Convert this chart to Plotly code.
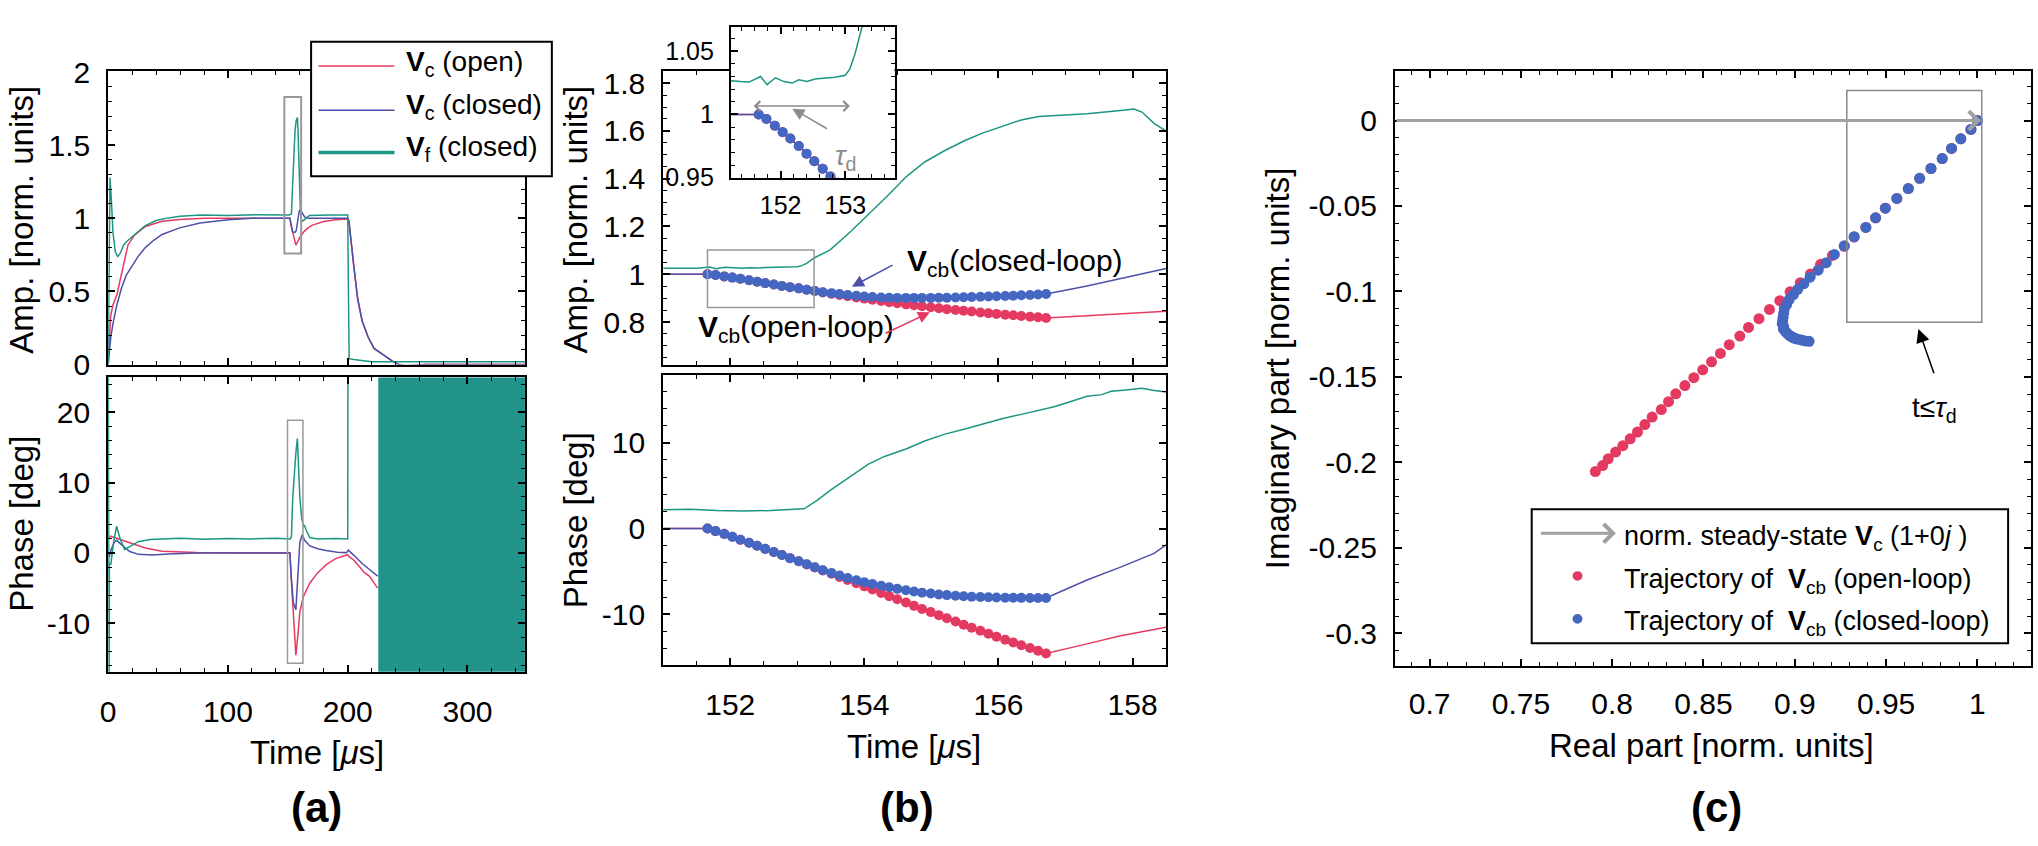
import numpy as np
import plotly.graph_objects as go

W, H = 2038, 846
def px(x): return x / W
def py(y): return 1 - y / H

FONT = "Liberation Sans, Arial, Helvetica, sans-serif"
RED = "#e43a62"
BLUE_L = "#4d4fa8"
BLUE_M = "#4467c2"
TEAL = "#1c9682"
TEAL_FILL = "#22938b"
GRAY = "#9a9a9a"

# ---------------- Panel (a): amplitude ----------------
a_open_amp_t = [0, 0.5, 1, 2, 4, 7.4, 10, 13, 16.6, 22, 31, 45, 60, 80, 150, 151.7, 153, 155, 156.7,
                158.5, 160, 163, 166, 170, 175, 180, 190, 200, 201, 202.6, 205, 208.3, 212, 216.9,
                222, 231, 237, 242.7, 248, 255, 265, 348]
a_open_amp = [0, 0.12, 0.22, 0.33, 0.41, 0.48, 0.58, 0.70, 0.82, 0.885, 0.945, 0.98, 0.993, 1.0, 1.0,
              1.0, 0.94, 0.86, 0.817, 0.845, 0.87, 0.905, 0.93, 0.952, 0.967, 0.978, 0.99, 0.995,
              0.98, 0.85, 0.68, 0.45, 0.30, 0.19, 0.11, 0.06, 0.025, 0.0, -0.006, -0.004, 0, 0]

a_closed_amp_t = [0, 0.5, 1, 2.2, 4, 7, 11, 15, 19.6, 25, 31, 38, 45, 59.5, 76.7, 100, 120, 150,
                  151.7, 154, 156, 157, 158.5, 159.5, 160.5, 162, 164, 167, 200, 201, 202.6, 205,
                  208.3, 212, 216.9, 222, 231, 237, 242.7, 248, 255, 265, 348]
a_closed_amp = [0, 0.05, 0.10, 0.19, 0.28, 0.40, 0.52, 0.61, 0.67, 0.74, 0.80, 0.85, 0.89, 0.935,
                0.968, 0.99, 1.0, 1.0, 1.0, 0.907, 0.904, 0.917, 1.02, 1.05, 1.058, 1.04, 1.01, 1.0,
                1.0, 0.98, 0.85, 0.68, 0.45, 0.30, 0.19, 0.11, 0.06, 0.025, 0.0, -0.008, -0.005, 0, 0]

a_vf_amp_t = [0, 0.5, 1, 1.5, 2.5, 4, 6, 8, 10, 13, 16.6, 22, 31, 40, 48, 60, 77, 100, 125, 151,
              153, 154, 155, 156, 157, 158, 158.5, 159.5, 160.5, 161.5, 163, 165, 168, 185, 200,
              200.6, 201.2, 205, 210, 220, 348]
a_vf_amp = [0, 0.6, 1.1, 1.28, 1.15, 0.90, 0.77, 0.74, 0.76, 0.82, 0.85, 0.89, 0.95, 0.985, 1.0,
            1.015, 1.023, 1.02, 1.025, 1.023, 1.03, 1.23, 1.46, 1.60, 1.67, 1.69, 1.60, 1.30, 1.05,
            0.98, 0.985, 1.0, 1.02, 1.023, 1.023, 0.5, 0.04, 0.035, 0.03, 0.02, 0.02]

# ---------------- Panel (a): phase ----------------
a_open_ph_t = [0.5, 2, 5, 10, 16.6, 25, 31, 45, 60, 74, 150, 151.7, 153, 154.5, 156.7, 158.5, 160,
               163, 168.3, 175, 182.6, 190, 199.9, 201, 205, 210, 214, 218, 222, 225]
a_open_ph = [2.0, 2.4, 2.2, 1.9, 1.6, 1.0, 0.7, 0.25, 0.1, 0.05, 0.0, 0.0, -4.0, -8.3, -14.56,
             -11.5, -8.4, -6.2, -4.3, -2.8, -1.6, -0.8, -0.25, -0.5, -1.0, -2.0, -2.8, -3.3, -4.2, -5.0]

a_closed_ph_t = [0.3, 1, 2.5, 5, 7, 10, 13.7, 18, 25.2, 36.7, 50, 74, 150, 151.7, 153, 154.5, 156.7,
                 157.8, 158.5, 160, 162, 164, 168.3, 175, 182, 191.3, 199, 200.5, 205, 212, 220, 225]
a_closed_ph = [-0.4, -0.5, 0.5, 1.5, 1.8, 1.4, 0.8, 0.2, -0.2, -0.3, -0.15, 0.0, 0.0, 0.0, -3.8,
               -7.0, -8.1, -4.5, -1.9, 1.5, 2.6, 1.8, 1.0, 0.6, 0.35, 0.1, 0.05, 0.4, -0.3, -1.5,
               -2.6, -3.3]

a_vf_ph_t = [0, 0.25, 0.5, 0.75, 1.0, 2.2, 4.5, 7, 10, 13.7, 18, 25, 35, 45, 60, 80, 100, 120, 140,
             152, 153, 154, 155, 156, 157, 158, 159, 160, 161.5, 163, 164, 165.4, 168.3, 175, 190,
             200, 200.3, 225]
a_vf_ph = [30, -20, 30, -20, -1.5, -1.6, 1.5, 3.8, 2.0, 0.5, 0.9, 1.6, 1.9, 2.0, 2.1, 1.95, 2.05,
           2.0, 2.1, 2.0, 2.3, 7.5, 10.6, 12.6, 14.8, 16.3, 12.0, 8.0, 5.0, 3.8, 3.9, 3.2, 2.2, 2.0,
           2.05, 2.0, 40, 40]

# random phase of V_f once the field is off
a_vf_noise_t = [225.5, 348]
a_vf_noise_ph = [-17, 25]

# ---------------- Panel (b) ----------------
b_vf_amp_t = [151.0, 151.24, 151.38, 151.51, 151.69, 151.79, 151.92, 152.05, 152.18, 152.28, 152.41,
              152.53, 152.66, 152.84, 153.0, 153.07, 153.15, 153.25, 153.49, 153.8, 154.06, 154.35,
              154.63, 154.9, 155.2, 155.5, 155.77, 156.05, 156.34, 156.6, 156.91, 157.32, 157.82,
              158.02, 158.14, 158.32, 158.5]
b_vf_amp = [1.025, 1.0266, 1.026, 1.0256, 1.030, 1.0236, 1.029, 1.026, 1.0248, 1.0274, 1.026, 1.028,
            1.0286, 1.0294, 1.031, 1.036, 1.048, 1.068, 1.102, 1.18, 1.25, 1.33, 1.41, 1.47, 1.518,
            1.56, 1.592, 1.62, 1.646, 1.66, 1.665, 1.672, 1.686, 1.692, 1.679, 1.632, 1.599]

b_vf_ph_t = [151.0, 151.4, 151.8, 152.2, 152.6, 152.9, 153.1, 153.3, 153.5, 153.8, 154.06, 154.3,
             154.63, 154.9, 155.2, 155.5, 155.77, 156.05, 156.34, 156.6, 156.83, 157.08, 157.32,
             157.54, 157.68, 157.9, 158.14, 158.3, 158.5]
b_vf_ph = [2.2, 2.25, 2.1, 2.05, 2.1, 2.25, 2.3, 3.3, 4.5, 6.1, 7.5, 8.4, 9.3, 10.2, 11.0, 11.6, 12.2,
           12.8, 13.3, 13.8, 14.2, 14.8, 15.4, 15.6, 16.0, 16.15, 16.35, 16.1, 15.9]

b_pre_t = [151.0]
b_pre_amp = [1.0]
b_pre_ph = [0.0]
b_post_t = [157.32, 157.82, 158.32, 158.5]
b_post_open_amp = [0.826, 0.834, 0.842, 0.845]
b_post_closed_amp = [0.951, 0.982, 1.013, 1.024]
b_post_open_ph = [-13.44, -12.5, -11.76, -11.5]
b_post_closed_ph = [-6.0, -4.5, -2.9, -1.9]

# sampled V_cb points (markers)
mk_t = [151.66, 151.78, 151.91, 152.03, 152.15, 152.28, 152.40, 152.52, 152.65, 152.77, 152.89,
        153.02, 153.14, 153.26, 153.38, 153.51, 153.63, 153.75, 153.88, 154.00, 154.12, 154.25,
        154.37, 154.49, 154.62, 154.74, 154.86, 154.99, 155.11, 155.23, 155.36, 155.48, 155.60,
        155.73, 155.85, 155.97, 156.10, 156.22, 156.34, 156.47, 156.59, 156.71]
mk_open_amp = [1.000, 0.9965, 0.991, 0.986, 0.981, 0.975, 0.969, 0.963, 0.957, 0.951, 0.946, 0.941,
               0.935, 0.930, 0.924, 0.918, 0.913, 0.908, 0.903, 0.898, 0.893, 0.888, 0.883, 0.879,
               0.874, 0.870, 0.866, 0.862, 0.858, 0.854, 0.850, 0.847, 0.844, 0.840, 0.837, 0.834,
               0.831, 0.828, 0.825, 0.822, 0.820, 0.817]
mk_closed_amp = [1.000, 0.9965, 0.991, 0.986, 0.981, 0.975, 0.969, 0.963, 0.957, 0.951, 0.946, 0.941,
                 0.935, 0.930, 0.925, 0.921, 0.917, 0.913, 0.910, 0.907, 0.905, 0.903, 0.902, 0.901,
                 0.901, 0.901, 0.901, 0.901, 0.902, 0.902, 0.903, 0.904, 0.905, 0.906, 0.907, 0.908,
                 0.909, 0.910, 0.912, 0.913, 0.915, 0.917]
mk_open_ph = [0.00, -0.30, -0.62, -0.95, -1.30, -1.65, -2.00, -2.37, -2.73, -3.09, -3.45, -3.81,
              -4.18, -4.54, -4.90, -5.26, -5.64, -6.00, -6.37, -6.74, -7.11, -7.50, -7.88, -8.25,
              -8.63, -9.01, -9.38, -9.74, -10.10, -10.46, -10.84, -11.20, -11.56, -11.92, -12.27,
              -12.62, -12.95, -13.28, -13.60, -13.93, -14.25, -14.56]
mk_closed_ph = [0.00, -0.30, -0.62, -0.95, -1.30, -1.65, -2.00, -2.37, -2.73, -3.09, -3.45, -3.81,
                -4.17, -4.52, -4.86, -5.18, -5.48, -5.76, -6.02, -6.25, -6.46, -6.66, -6.85, -7.03,
                -7.19, -7.34, -7.47, -7.58, -7.68, -7.76, -7.83, -7.89, -7.94, -7.98, -8.01, -8.04,
                -8.06, -8.07, -8.08, -8.09, -8.10, -8.10]

# ---------------- Panel (c): complex trajectories from amplitude/phase ----------------
def to_complex(amp, ph):
    a = np.array(amp); p = np.radians(np.array(ph))
    return a * np.cos(p), a * np.sin(p)

c_open_re, c_open_im = to_complex(mk_open_amp, mk_open_ph)
c_closed_re, c_closed_im = to_complex(mk_closed_amp, mk_closed_ph)

fig = go.Figure()

def line(x, y, color, xa, ya, width=1.5):
    fig.add_trace(go.Scatter(x=x, y=y, mode="lines", line=dict(color=color, width=width),
                             xaxis=xa, yaxis=ya, showlegend=False, hoverinfo="skip"))

def dots(x, y, color, xa, ya, size=8):
    fig.add_trace(go.Scatter(x=x, y=y, mode="markers",
                             marker=dict(color=color, size=size, line=dict(width=0)),
                             xaxis=xa, yaxis=ya, showlegend=False, hoverinfo="skip"))

# (a) top
line(a_open_amp_t, a_open_amp, RED, "x", "y")
line(a_closed_amp_t, a_closed_amp, BLUE_L, "x", "y")
line(a_vf_amp_t, a_vf_amp, TEAL, "x", "y")
# (a) bottom
fig.add_trace(go.Scatter(x=[a_vf_noise_t[0], a_vf_noise_t[1], a_vf_noise_t[1], a_vf_noise_t[0]],
                         y=[a_vf_noise_ph[0], a_vf_noise_ph[0], a_vf_noise_ph[1], a_vf_noise_ph[1]],
                         mode="lines", fill="toself", fillcolor=TEAL_FILL, line=dict(width=0, color=TEAL_FILL),
                         xaxis="x2", yaxis="y2", showlegend=False, hoverinfo="skip"))
line(a_open_ph_t, a_open_ph, RED, "x2", "y2")
line(a_closed_ph_t, a_closed_ph, BLUE_L, "x2", "y2")
line(a_vf_ph_t, a_vf_ph, TEAL, "x2", "y2")

# (b) top + inset + bottom
for xa, ya in (("x3", "y3"), ("x5", "y5")):
    line(b_vf_amp_t, b_vf_amp, TEAL, xa, ya)
    line(b_pre_t + mk_t + b_post_t, b_pre_amp + mk_open_amp + b_post_open_amp, RED, xa, ya)
    line(b_pre_t + mk_t + b_post_t, b_pre_amp + mk_closed_amp + b_post_closed_amp, BLUE_L, xa, ya)
    dots(mk_t, mk_open_amp, RED, xa, ya, 10)
    dots(mk_t, mk_closed_amp, BLUE_M, xa, ya, 10)

line(b_vf_ph_t, b_vf_ph, TEAL, "x4", "y4")
line(b_pre_t + mk_t + b_post_t, b_pre_ph + mk_open_ph + b_post_open_ph, RED, "x4", "y4")
line(b_pre_t + mk_t + b_post_t, b_pre_ph + mk_closed_ph + b_post_closed_ph, BLUE_L, "x4", "y4")
dots(mk_t, mk_open_ph, RED, "x4", "y4", 10)
dots(mk_t, mk_closed_ph, BLUE_M, "x4", "y4", 10)

# (c)
dots(c_open_re, c_open_im, RED, "x6", "y6", 11)
dots(c_closed_re, c_closed_im, BLUE_M, "x6", "y6", 11)

def axis(dom, rng, anchor, tickvals=None, ticktext=None, minor=None, labels=True, fsize=30,
         standoff=10):
    d = dict(domain=dom, range=rng, anchor=anchor, showline=True, linewidth=2, linecolor="black",
             mirror="allticks", ticks="inside", ticklen=7, tickwidth=1.5, tickcolor="black",
             showgrid=False, zeroline=False, showticklabels=labels,
             tickfont=dict(family=FONT, size=fsize, color="black"), ticklabelstandoff=standoff,
             tickmode="array", tickvals=tickvals, ticktext=ticktext)
    if minor is not None:
        d["minor"] = dict(ticks="inside", ticklen=4, tickwidth=1, tickcolor="black", tick0=0, dtick=minor)
    return d

xa_dom = [px(100.6), px(519)]
xb_dom = [px(657.8), px(1162.7)]
layout = dict(
    width=W, height=H, autosize=False, margin=dict(l=0, r=0, t=0, b=0),
    paper_bgcolor="white", plot_bgcolor="white", showlegend=False,
    font=dict(family=FONT, color="black"),
    xaxis=axis(xa_dom, [0, 348], "y", [0, 100, 200, 300], ["0", "100", "200", "300"], 20, labels=False),
    yaxis=axis([py(362.7), py(57.7)], [0, 2.005], "x", [0, 0.5, 1, 1.5, 2], ["0", "0.5", "1", "1.5", "2"], 0.1),
    xaxis2=axis(xa_dom, [0, 348], "y2", [0, 100, 200, 300], ["0", "100", "200", "300"], 20, standoff=12),
    yaxis2=axis([py(682.3), py(376)], [-16.9, 25], "x2", [-10, 0, 10, 20], ["-10", "0", "10", "20"], 2),
    xaxis3=axis(xb_dom, [151, 158.5], "y3", [152, 154, 156, 158], ["152", "154", "156", "158"], 0.5, labels=False),
    yaxis3=axis([py(362.7), py(57.7)], [0.622, 1.849], "x3", [0.8, 1, 1.2, 1.4, 1.6, 1.8],
                ["0.8", "1", "1.2", "1.4", "1.6", "1.8"], 0.05),
    xaxis4=axis(xb_dom, [151, 158.5], "y4", [152, 154, 156, 158], ["152", "154", "156", "158"], 0.5, standoff=12),
    yaxis4=axis([py(675.5), py(374)], [-15.92, 17.84], "x4", [-10, 0, 10], ["-10", "0", "10"], 2),
    xaxis5=axis([px(725.7), px(890)], [151.23, 153.76], "y5", [152, 153], ["152", "153"], 0.2, fsize=25, standoff=4),
    yaxis5=axis([py(168.5), py(11)], [0.9498, 1.0695], "x5", [0.95, 1, 1.05], ["0.95", "1", "1.05"], 0.01, fsize=25),
    xaxis6=axis([px(1392.4), px(2031)], [0.681, 1.0294], "y6", [0.7, 0.75, 0.8, 0.85, 0.9, 0.95, 1],
                ["0.7", "0.75", "0.8", "0.85", "0.9", "0.95", "1"], 0.01, standoff=10),
    yaxis6=axis([py(676), py(57.7)], [-0.3189, 0.0287], "x6", [-0.3, -0.25, -0.2, -0.15, -0.1, -0.05, 0],
                ["-0.3", "-0.25", "-0.2", "-0.15", "-0.1", "-0.05", "0"], 0.01),
)
fig.update_layout(**layout)

shapes = []
def rect_data(xr, yr, x0, x1, y0, y1, color="#999999", w=1.5):
    shapes.append(dict(type="rect", xref=xr, yref=yr, x0=x0, x1=x1, y0=y0, y1=y1,
                       line=dict(color=color, width=w), fillcolor="rgba(0,0,0,0)"))

rect_data("x", "y", 147.1, 161.1, 0.759, 1.83, w=2)
rect_data("x2", "y2", 149.7, 162.6, -15.7, 18.9)
rect_data("x3", "y3", 151.66, 153.25, 0.861, 1.102)
rect_data("x6", "y6", 0.9285, 1.0024, -0.118, 0.0176, color="#888888")

def prect(x0, x1, y0, y1):
    shapes.append(dict(type="rect", xref="paper", yref="paper", x0=px(x0), x1=px(x1), y0=py(y1), y1=py(y0),
                       line=dict(color="black", width=2), fillcolor="white", layer="above"))
def pline(x0, x1, y, color, w):
    shapes.append(dict(type="line", xref="paper", yref="paper", x0=px(x0), x1=px(x1), y0=py(y), y1=py(y),
                       line=dict(color=color, width=w), layer="above"))
def pdot(x, y, color, r=5):
    shapes.append(dict(type="circle", xref="paper", yref="paper", x0=px(x - r), x1=px(x + r),
                       y0=py(y + r), y1=py(y - r), line=dict(width=0), fillcolor=color, layer="above"))

# legend (a)
prect(304.3, 546, 26.7, 166.7)
pline(311.7, 388, 52, RED, 1.5)
pline(311.7, 388, 98, BLUE_L, 1.5)
pline(311.7, 388, 142, TEAL, 3.5)
# legend (c)
prect(1529.7, 2008, 513.3, 652.7)
pdot(1575.7, 582.7, RED)
pdot(1575.7, 627.3, BLUE_M)

ann = []
def txt(x, y, text, size=30, xanchor="center", angle=0, color="black"):
    ann.append(dict(x=px(x), y=py(y), xref="paper", yref="paper", text=text, showarrow=False,
                    xanchor=xanchor, yanchor="middle", textangle=angle,
                    font=dict(family=FONT, size=size, color=color)))

# legend (a) texts
txt(398, 49, "<b>V</b><sub>c</sub> (open)", 28, "left")
txt(398, 94, "<b>V</b><sub>c</sub> (closed)", 28, "left")
txt(398, 138, "<b>V</b><sub>f</sub> (closed)", 28, "left")
# legend (c) texts
txt(1620.6, 543, "norm. steady-state <b>V</b><sub>c</sub> (1+0<i>j</i> )", 27, "left")
txt(1620.6, 588, "Trajectory of  <b>V</b><sub>cb</sub> (open-loop)", 27, "left")
txt(1620.6, 632, "Trajectory of  <b>V</b><sub>cb</sub> (closed-loop)", 27, "left")
ann.append(dict(x=px(1614.2), y=py(538.3), xref="paper", yref="paper", ax=-76.4, ay=0, text="",
                showarrow=True, arrowhead=4, arrowsize=1.2, arrowwidth=3, arrowcolor="#a0a0a0"))

# axis titles
txt(14, 212, "Amp. [norm. units]", 33, angle=-90)
txt(14, 528.5, "Phase [deg]", 33, angle=-90)
txt(310, 766, "Time [<i>μ</i>s]", 33)
txt(570, 212, "Amp. [norm. units]", 33, angle=-90)
txt(570, 525, "Phase [deg]", 33, angle=-90)
txt(910, 760, "Time [<i>μ</i>s]", 33)
txt(1274, 366.5, "Imaginary part [norm. units]", 33, angle=-90)
txt(1710, 759, "Real part [norm. units]", 33)
txt(310, 824, "<b>(a)</b>", 42)
txt(902.7, 824, "<b>(b)</b>", 42)
txt(1715.7, 824, "<b>(c)</b>", 42)

# panel (b) labels and arrows
txt(900.7, 257, "<b>V</b><sub>cb</sub>(closed-loop)", 30, "left")
txt(690.3, 325, "<b>V</b><sub>cb</sub>(open-loop)", 30, "left")
ann.append(dict(x=px(847.2), y=py(281.7), xref="paper", yref="paper", ax=42.1, ay=-22.4, text="",
                showarrow=True, arrowhead=2, arrowsize=1.6, arrowwidth=1.5, arrowcolor=BLUE_L))
ann.append(dict(x=px(925.6), y=py(308.3), xref="paper", yref="paper", ax=-45.9, ay=21.7, text="",
                showarrow=True, arrowhead=2, arrowsize=1.6, arrowwidth=1.5, arrowcolor=RED))
# inset arrows
ann.append(dict(x=153.07, y=1.0066, xref="x5", yref="y5", ax=151.56, ay=1.0066, axref="x5", ayref="y5",
                text="", showarrow=True, arrowhead=4, arrowside="end+start", arrowsize=1.3,
                arrowwidth=1.5, arrowcolor="#8c8c8c"))
ann.append(dict(x=152.18, y=1.0046, xref="x5", yref="y5", ax=152.74, ay=0.988, axref="x5", ayref="y5",
                text="", showarrow=True, arrowhead=2, arrowsize=1.6, arrowwidth=1.5, arrowcolor="#8c8c8c"))
ann.append(dict(x=153.0, y=0.9656, xref="x5", yref="y5", text="<i>τ</i><sub>d</sub>", showarrow=False,
                font=dict(family=FONT, size=28, color="#8c8c8c")))

# panel (c) arrows and label
ann.append(dict(x=1.002, y=0, xref="x6", yref="y6", ax=0.681, ay=0, axref="x6", ayref="y6", text="",
                showarrow=True, arrowhead=4, arrowsize=1.2, arrowwidth=3, arrowcolor="#a0a0a0"))
ann.append(dict(x=0.9677, y=-0.122, xref="x6", yref="y6", ax=0.9765, ay=-0.1487, axref="x6", ayref="y6",
                text="", showarrow=True, arrowhead=2, arrowsize=1.8, arrowwidth=1.5, arrowcolor="black"))
ann.append(dict(x=0.9765, y=-0.169, xref="x6", yref="y6", text="t≤<i>τ</i><sub>d</sub>", showarrow=False,
                font=dict(family=FONT, size=28, color="black")))

fig.update_layout(shapes=shapes, annotations=ann)
fig.write_html("out.html")
